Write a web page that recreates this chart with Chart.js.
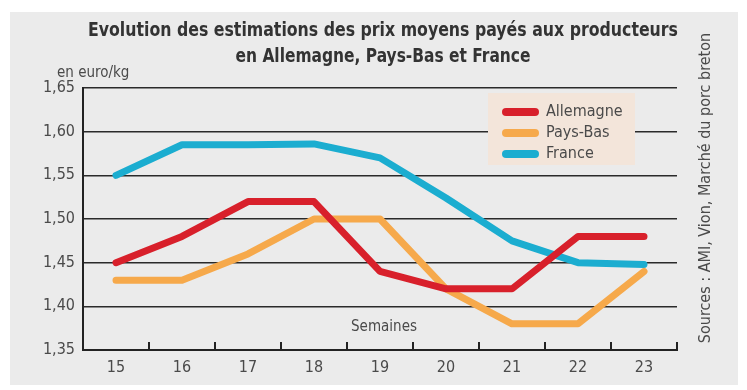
<!DOCTYPE html>
<html>
<head>
<meta charset="utf-8">
<script src="https://cdn.jsdelivr.net/npm/chart.js@4"></script>
<style>
  html, body { margin: 0; padding: 0; background: #fff; }
  #wrap { width: 747px; height: 390px; }
</style>
</head>
<body>
<div id="wrap"><canvas id="graph-prix" width="747" height="390"></canvas></div>
<script>
const semaines = ["15", "16", "17", "18", "19", "20", "21", "22", "23"]
const allemagne = [1.45, 1.48, 1.52, 1.52, 1.44, 1.42, 1.42, 1.48, 1.48]
const paysBas = [1.43, 1.43, 1.46, 1.50, 1.50, 1.42, 1.38, 1.38, 1.44]
const france = [1.55, 1.585, 1.585, 1.586, 1.57, 1.524, 1.475, 1.45, 1.448]

const titleLines = ["Evolution des estimations des prix moyens payés aux producteurs", "en Allemagne, Pays-Bas et France"]
const unitLabel = "en euro/kg"
const xAxisLabel = "Semaines"
const sourceLabel = "Sources : AMI, Vion, Marché du porc breton"

const narrow = "'DejaVu Sans Condensed', 'Liberation Sans', sans-serif"
const textColor = "#4a4a4a"

/* background panel, titles and side texts */
const decorPlugin = {
    id: "decor",
    beforeDraw(chart) {
        const ctx = chart.ctx
        ctx.save()
        ctx.fillStyle = "#ffffff"
        ctx.fillRect(0, 0, chart.width, chart.height)
        ctx.fillStyle = "#ebebeb"
        ctx.fillRect(10, 12, 728, 373)
        ctx.restore()
    },
    afterDraw(chart) {
        const ctx = chart.ctx
        ctx.save()
        ctx.fillStyle = "#333"
        ctx.textAlign = "center"
        ctx.textBaseline = "middle"
        ctx.font = "bold 20px " + narrow
        // squeeze to the condensed width of the original
        ctx.fillText(titleLines[0], 383, 31, 590)
        ctx.fillText(titleLines[1], 383, 57, 295)

        ctx.fillStyle = textColor
        ctx.font = "15px " + narrow
        ctx.textAlign = "left"
        ctx.fillText(unitLabel, 57, 73, 78)

        ctx.textAlign = "center"
        ctx.fillText(xAxisLabel, 384, 327)

        ctx.translate(706, 188)
        ctx.rotate(-Math.PI / 2)
        ctx.font = "16px " + narrow
        ctx.fillText(sourceLabel, 0, 0, 335)
        ctx.restore()
    }
}

/* small ticks pointing up between the weeks */
const tickPlugin = {
    id: "innerTicks",
    afterDatasetsDraw(chart) {
        const ctx = chart.ctx
        const x = chart.scales.x
        const bottom = chart.chartArea.bottom
        ctx.save()
        ctx.strokeStyle = "#222"
        ctx.lineWidth = 2
        for (let i = 0; i < semaines.length; i++) {
            const px = i + 1 < semaines.length ? (x.getPixelForValue(i) + x.getPixelForValue(i + 1)) / 2 : x.right
            ctx.beginPath()
            ctx.moveTo(px, bottom)
            ctx.lineTo(px, bottom - 8)
            ctx.stroke()
        }
        ctx.restore()
    }
}

/* legend box drawn inside the plot */
const legendPlugin = {
    id: "boxLegend",
    afterDraw(chart) {
        const ctx = chart.ctx
        ctx.save()
        ctx.fillStyle = "#f3e5da"
        ctx.fillRect(488, 93, 147, 72)
        chart.data.datasets.forEach((ds, i) => {
            const y = 112 + i * 21
            ctx.strokeStyle = ds.borderColor
            ctx.lineWidth = 8
            ctx.lineCap = "round"
            ctx.beginPath()
            ctx.moveTo(506, y)
            ctx.lineTo(535, y)
            ctx.stroke()
            ctx.fillStyle = textColor
            ctx.font = "16px " + narrow
            ctx.textAlign = "left"
            ctx.textBaseline = "middle"
            ctx.fillText(ds.label, 546, y)
        })
        ctx.restore()
    }
}

const makeSet = (label, values, color) => ({
    label: label,
    data: values,
    borderColor: color,
    backgroundColor: color,
    borderWidth: 7,
    pointRadius: 0,
    tension: 0,
    borderCapStyle: "round",
    borderJoinStyle: "round",
    fill: false
})

const config = {
    type: "line",
    data: {
        labels: semaines,
        datasets: [
            makeSet("Allemagne", allemagne, "#d8202b"),
            makeSet("Pays-Bas", paysBas, "#f6a94b"),
            makeSet("France", france, "#1badd0")
        ]
    },
    options: {
        responsive: false,
        animation: false,
        devicePixelRatio: 1,
        layout: { padding: { left: 0, top: 88, right: 70, bottom: 0 } },
        plugins: {
            legend: { display: false },
            tooltip: { enabled: false },
            title: { display: false }
        },
        scales: {
            x: {
                offset: true,
                grid: { display: false, drawTicks: false },
                border: { color: "#222", width: 2 },
                ticks: {
                    color: textColor,
                    font: { family: narrow, size: 16 },
                    padding: 8,
                    maxRotation: 0
                },
                afterFit: (scale) => { scale.height = 40 }
            },
            y: {
                min: 1.35,
                max: 1.65,
                grid: { color: "#2a2a2a", lineWidth: 1.6, drawTicks: false },
                border: { color: "#222", width: 2 },
                ticks: {
                    stepSize: 0.05,
                    color: textColor,
                    font: { family: narrow, size: 16 },
                    padding: 8,
                    callback: (v) => v.toFixed(2).replace(".", ",")
                },
                afterFit: (scale) => { scale.width = 83 }
            }
        }
    },
    plugins: [decorPlugin, tickPlugin, legendPlugin]
}

new Chart(document.querySelector("#graph-prix"), config)
</script>
</body>
</html>
